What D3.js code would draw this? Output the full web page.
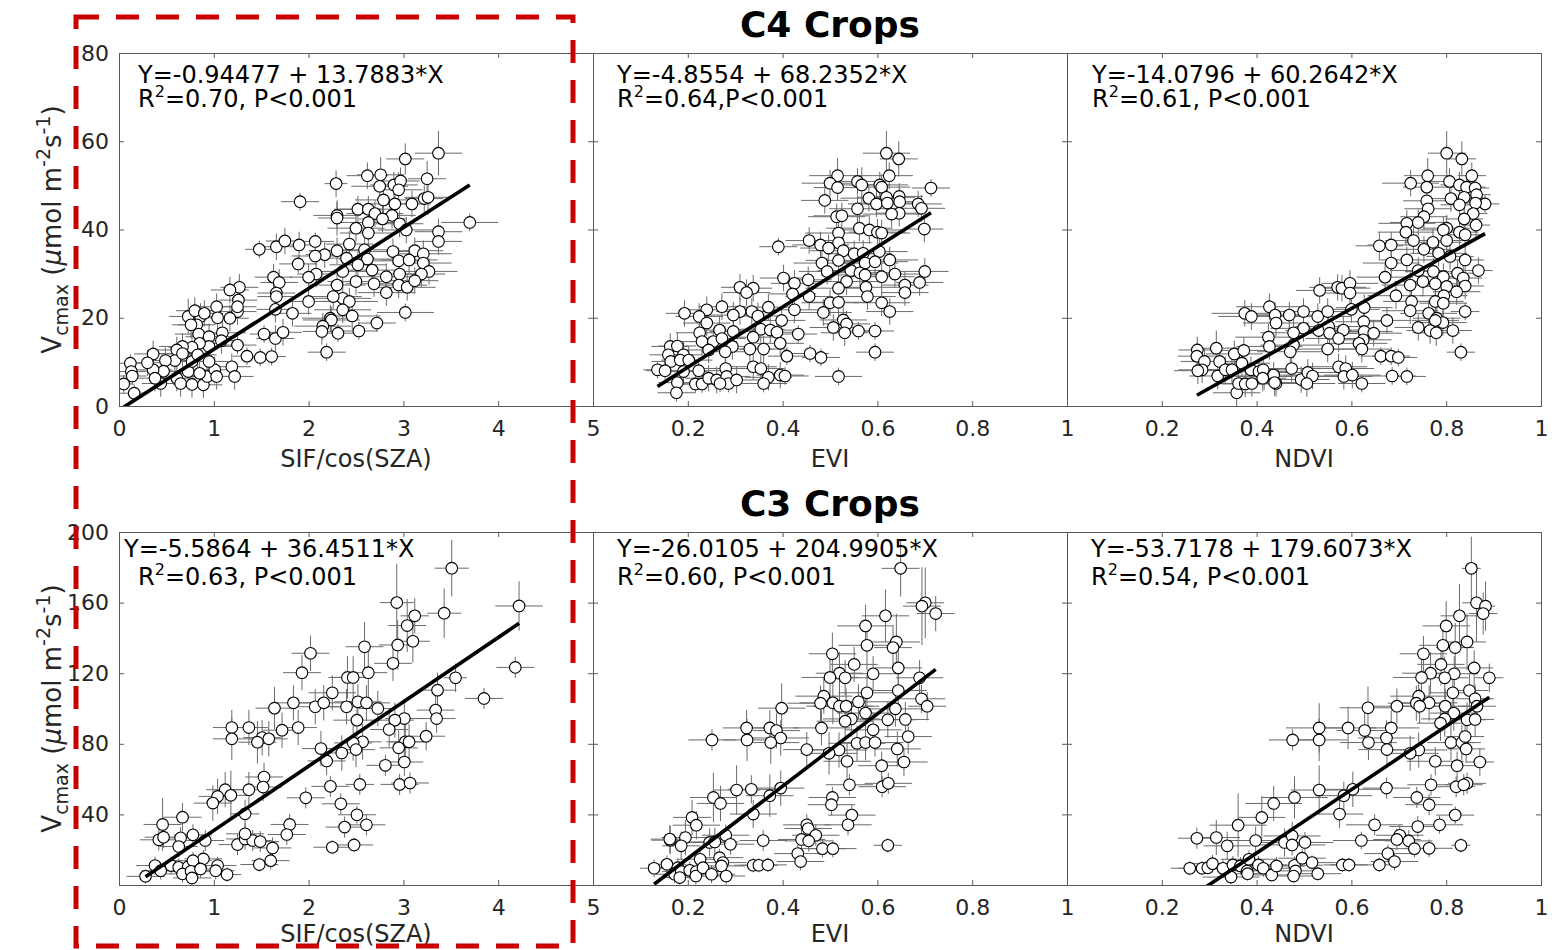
<!DOCTYPE html>
<html>
<head>
<meta charset="utf-8">
<script src="https://cdn.jsdelivr.net/npm/d3@7"></script>
<style>
body{margin:0;background:#fff;}
svg{display:block;font-family:"DejaVu Sans",sans-serif;}
</style>
</head>
<body>
<div id="chart"></div>
<script>
// each point: [x, Vcmax, x error (half width), Vcmax error (half height)]
var c4Sif = [
[3.37,57.3,.25,5],[3.02,56,.2,3.5],[2.62,52.2,.22,3],[2.76,52.4,.25,4],[2.29,50.4,.12,3],[3.25,51.5,.2,4],[2.90,50.1,.25,3],[2.97,51,.2,3],[2.95,49,.25,4],[2.75,49.8,.3,3],
[2.79,46.7,.3,3],[2.91,45.8,.25,3],[3.09,45.8,.2,3],[3.22,47,.2,3],[3.26,47.3,.25,4],[1.91,46.3,.2,2],[2.52,44.6,.25,3],[2.63,44.6,.3,3],[2.30,43.2,.25,3],[2.30,42.6,.2,4],
[2.70,43.6,.3,3],[2.88,43.2,.25,3],[2.63,41.6,.3,4],[2.78,42.4,.25,3],[2.96,41.3,.25,3],[3.70,41.6,.3,2],[2.50,40.3,.3,3],[2.63,39.2,.3,4],[3.03,39.9,.3,3],[3.37,39.5,.25,3],
[2.43,36.7,.25,3],[2.59,35.4,.3,3],[3.37,37.3,.25,3],[1.48,35.5,.15,2],[1.66,36.1,.2,3],[1.75,37.4,.2,3],[1.90,36.5,.2,3],[2.07,37.3,.2,2],[2.30,35.2,.3,3],[2.89,35,.3,3],
[3.12,35.2,.3,3],[3.21,34.5,.3,3],[2.17,34.3,.2,3],[2.07,34,.25,2],[2.40,33.5,.3,3],[2.62,33.3,.3,3],[2.95,32.9,.3,3],[3.06,33.1,.3,3],[1.89,32.2,.2,2],[3.21,32.4,.3,3],
[2.52,32,.3,3],[2.36,30.5,.3,3],[2.67,30.8,.3,3],[2.96,29.9,.3,3],[3.27,30.5,.3,3],[3.19,29.9,.25,3],[2.08,29.9,.2,3],[2.00,29.2,.2,3],[1.63,29.2,.2,3],[2.82,29.3,.3,3],
[2.95,27.4,.3,3],[3.04,26.9,.3,3],[3.12,28.4,.25,3],[2.50,28.2,.3,3],[2.69,27.7,.3,3],[2.82,25.7,.3,3],[2.30,27.4,.3,3],[1.69,28,.2,3],[1.66,25.6,.2,3],[1.27,26.9,.2,3],
[1.17,26.3,.2,3],[2.36,24.4,.3,3],[2.26,24.8,.3,3],[1.66,24.8,.2,3],[2.43,23.7,.3,3],[2.00,23.7,.2,3],[1.26,24,.2,3],[2.36,21.8,.3,3],[2.46,20.4,.3,3],[3.02,21.2,.3,2],
[2.23,19.9,.3,3],[2.24,19.5,.3,3],[2.15,18.1,.3,3],[2.14,16.9,.2,3],[2.31,16.5,.2,2],[2.53,17,.2,2],[2.72,18.8,.2,2],[1.83,21,.2,3],[1.65,21.9,.2,3],[1.53,16.3,.15,2],
[1.65,15.3,.2,3],[1.73,16.7,.2,3],[1.49,11,.15,2],[1.61,11.2,.15,2],[1.35,11.3,.15,2],[2.19,12.2,.2,2],[1.25,13.8,.2,2],[1.25,21.4,.2,3],[1.25,22.5,.2,3],[1.03,22.5,.2,3],
[1.17,19.9,.2,3],[1.04,20,.2,3],[0.86,20.3,.2,3],[0.73,20.3,.2,4],[0.80,21.6,.2,3],[0.90,21,.2,3],[0.82,18.4,.2,3],[0.76,18.4,.2,3],[0.84,16.3,.25,3],[0.95,15.7,.25,3],
[1.09,16.6,.25,3],[1.08,14.8,.2,3],[0.95,13.5,.25,3],[0.85,14.2,.25,3],[0.77,13.3,.25,3],[0.67,13.5,.25,3],[0.61,12.7,.25,3],[0.59,10.3,.25,3],[0.49,10.3,.25,3],[0.36,11.8,.2,3],
[0.47,7.9,.25,3],[0.36,8.2,.2,3],[0.30,9.8,.2,3],[0.12,9.7,.15,2],[0.13,7.8,.15,2],[0.16,2.9,.15,2],[0.05,5,.1,2],[0.14,6.8,.15,2],[0.61,6.3,.2,3],[0.65,5.1,.2,3],
[0.77,4.9,.2,3],[0.89,4.8,.2,3],[0.93,6.7,.2,3],[1.01,8.2,.2,3],[1.03,6.7,.25,3],[0.73,7.8,.2,3],[0.85,7.4,.2,3],[0.77,10.1,.2,3],[0.95,10.1,.2,3],[1.19,8.9,.2,3],
[1.22,6.7,.2,3],[0.44,5.1,.2,3],[0.38,6.3,.2,3],[0.67,11.9,.25,3],[0.83,11.6,.2,3]
];
var c4Evi = [
[.619,57.3,.05,5],[.645,56,.04,4],[.516,52.2,.06,4],[.500,50.5,.06,3],[.516,49.5,.05,3],[.558,50.9,.06,3],[.567,50.1,.06,4],[.605,50.1,.06,3],[.625,52.2,.05,3],[.609,49.6,.06,3],
[.713,49.4,.04,2],[.489,46.6,.05,3],[.582,47.1,.06,3],[.619,47.3,.06,3],[.646,47.5,.05,3],[.647,46.3,.05,3],[.598,45.8,.06,3],[.686,45.8,.05,3],[.693,44.8,.05,3],[.558,44.7,.06,3],
[.621,46,.06,3],[.646,43.7,.05,3],[.514,42.9,.06,3],[.525,43.1,.06,3],[.630,43.5,.06,3],[.562,40.3,.07,3],[.583,39.9,.07,3],[.600,39.4,.06,3],[.609,39.2,.06,3],[.699,40.1,.04,3],
[.518,39.2,.07,3],[.456,37.5,.05,3],[.480,36.5,.06,3],[.518,37,.07,3],[.391,36.1,.04,2],[.497,35.8,.06,3],[.528,35.2,.07,3],[.551,34.5,.06,3],[.570,34.6,.06,3],[.604,35,.06,3],
[.626,33.1,.06,3],[.518,33,.07,3],[.483,32.4,.06,3],[.574,32.4,.07,3],[.595,32.7,.07,3],[.494,30.5,.06,3],[.544,30.7,.07,3],[.563,30.2,.07,3],[.574,29.7,.06,3],[.609,29.3,.07,3],
[.637,29.9,.06,3],[.700,30.5,.05,3],[.402,29,.05,3],[.454,28.6,.05,3],[.425,27.8,.05,3],[.535,28.2,.07,3],[.658,27.4,.05,3],[.689,28,.05,3],[.658,25.7,.05,3],[.518,26.7,.07,3],
[.576,26.9,.07,3],[.421,25.4,.05,3],[.456,24.8,.05,3],[.579,24.8,.06,3],[.310,26.9,.04,3],[.338,26.7,.04,3],[.324,25.7,.05,3],[.500,23.4,.06,3],[.609,23.4,.06,3],[.626,21.4,.05,3],
[.518,23.5,.06,3],[.486,21.2,.06,3],[.425,21.8,.05,3],[.370,22.4,.05,3],[.335,21.4,.05,3],[.310,21.4,.05,3],[.272,22.5,.05,3],[.240,21.8,.05,3],[.193,21,.04,3],[.224,20.3,.05,3],
[.296,20.6,.05,3],[.348,20.4,.05,3],[.398,19.4,.05,3],[.528,19.5,.05,3],[.535,18.6,.05,3],[.507,17.8,.05,3],[.560,17,.05,2],[.595,17,.04,2],[.531,16.6,.05,3],[.433,16.3,.04,2],
[.240,18.8,.05,3],[.225,16.6,.05,3],[.267,17.2,.05,3],[.296,16.9,.05,3],[.354,17.4,.05,3],[.374,17.2,.05,3],[.388,16.7,.05,3],[.230,14.6,.05,3],[.254,14.6,.05,3],[.272,15.3,.05,3],
[.338,15.6,.05,3],[.395,14.2,.05,3],[.294,13.5,.05,3],[.163,13.5,.04,3],[.178,13.6,.04,3],[.331,12.9,.05,3],[.360,12.9,.05,3],[.244,12.7,.05,3],[.279,12.3,.05,3],[.458,11.9,.04,2],
[.595,12.2,.04,2],[.159,11.6,.04,3],[.191,11.6,.04,3],[.409,11.3,.04,2],[.164,10.1,.04,3],[.184,10.4,.04,3],[.202,10.4,.05,3],[.481,11,.04,2],[.136,8.2,.03,2],[.152,8,.04,2],
[.191,7.8,.05,3],[.223,8,.05,3],[.280,8.5,.05,3],[.338,8.9,.05,3],[.354,8.5,.05,3],[.395,7,.05,3],[.405,6.8,.05,2],[.370,6.5,.05,3],[.518,6.7,.05,2],[.178,5.3,.04,2],
[.216,5,.05,2],[.230,5,.05,2],[.244,6.3,.05,3],[.261,5.9,.05,3],[.282,6.7,.05,3],[.286,5.1,.05,2],[.268,5.1,.05,2],[.176,3,.04,2],[.360,5.1,.05,2],[.303,5.9,.05,3]
];
var c4Ndvi = [
[.801,57.3,.04,5],[.833,56,.03,4],[.761,52.2,.05,4],[.854,52.2,.03,3],[.725,50.5,.06,3],[.807,50.9,.05,3],[.759,49.6,.05,3],[.828,50.1,.04,3],[.843,49.6,.04,3],[.861,49.4,.03,3],
[.810,47,.05,3],[.838,47.3,.04,3],[.864,47.9,.03,3],[.882,45.8,.03,2],[.862,46,.03,3],[.828,45.6,.04,3],[.759,46.5,.05,3],[.762,44.7,.05,3],[.753,42.9,.05,3],[.857,43.6,.03,3],
[.838,42.4,.04,3],[.741,41.6,.06,3],[.717,41.4,.06,3],[.863,41,.03,3],[.801,40.3,.05,3],[.794,39.9,.05,3],[.828,39.4,.04,3],[.715,39.4,.06,3],[.840,38.8,.04,3],[.731,37.5,.06,3],
[.659,36.3,.05,3],[.684,36.5,.05,3],[.772,37.1,.06,3],[.801,37.5,.05,3],[.753,35.5,.06,3],[.784,34.6,.06,3],[.808,33.9,.05,3],[.840,33.1,.04,3],[.684,32.4,.06,3],[.717,33.1,.06,3],
[.824,30.1,.05,3],[.868,30.7,.03,3],[.741,30.7,.06,3],[.773,30.5,.06,3],[.794,29.3,.05,3],[.836,29,.04,3],[.671,29.2,.06,3],[.751,28.2,.06,3],[.777,27.7,.06,3],[.724,27.4,.06,3],
[.801,27.1,.05,3],[.840,27.2,.04,3],[.822,25.9,.05,3],[.533,26.2,.05,3],[.571,26.9,.06,3],[.580,26.7,.06,3],[.597,27.8,.06,3],[.597,25.6,.06,3],[.694,25,.06,3],[.795,25,.05,3],
[.777,23.7,.06,3],[.727,23.7,.06,3],[.794,23.3,.05,3],[.724,21.6,.06,3],[.600,21.9,.06,3],[.627,22.3,.06,3],[.840,21.4,.03,2],[.763,21,.06,3],[.780,19.9,.05,3],[.793,18.9,.05,3],
[.777,19.4,.05,3],[.741,17.8,.05,3],[.766,17.1,.05,3],[.779,16.6,.05,3],[.814,17.1,.04,3],[.675,19.4,.05,3],[.626,19.1,.06,3],[.427,22.5,.07,3],[.439,20.6,.07,3],[.469,20.6,.07,3],
[.499,21.4,.07,3],[.529,20.3,.07,3],[.550,21.4,.06,3],[.375,21,.07,3],[.389,20.3,.07,3],[.441,18.8,.07,3],[.499,17.6,.07,3],[.531,17.1,.07,3],[.552,18,.07,3],[.583,17.2,.07,3],
[.627,16.9,.06,3],[.625,15,.06,3],[.647,16.5,.06,3],[.478,16.6,.07,3],[.425,15.6,.07,3],[.554,16.5,.07,3],[.573,15.3,.07,3],[.427,13.5,.07,3],[.478,13.8,.07,3],[.471,12.3,.07,3],
[.616,14.2,.06,3],[.622,12.9,.06,3],[.550,12.9,.07,3],[.275,12.7,.04,3],[.315,13.1,.05,4],[.274,11.3,.04,3],[.353,11.8,.06,3],[.373,12.6,.06,3],[.290,10.1,.05,3],[.322,10.1,.06,3],
[.369,9.7,.06,3],[.285,8.2,.05,3],[.318,6.8,.06,3],[.334,8.2,.06,3],[.348,8.2,.06,3],[.276,8,.05,3],[.662,11.3,.04,2],[.684,11.3,.04,2],[.699,11,.04,2],[.831,12.2,.03,2],
[.388,8.2,.06,3],[.405,7.8,.06,3],[.416,6.7,.06,3],[.436,7,.06,3],[.441,5.1,.05,3],[.414,8.2,.06,3],[.474,8.5,.06,3],[.494,6,.06,3],[.508,7.6,.06,3],[.518,6.8,.06,3],
[.506,5.1,.06,3],[.573,8.9,.06,3],[.588,8.5,.06,3],[.584,6.7,.06,3],[.602,7,.06,3],[.622,5.1,.05,2],[.686,6.8,.05,2],[.717,6.7,.04,2],[.358,3,.05,3],[.362,5.1,.05,3],
[.376,5,.05,3],[.390,5.1,.05,3],[.413,6.3,.05,3],[.438,5.3,.05,3]
];
var c3Sif = [
[3.51,179.5,.18,16],[2.93,160,.18,22],[4.22,158.1,.25,14],[3.43,154,.18,14],[3.12,152.5,.15,10],[3.04,147,.2,15],[3.10,138.1,.18,12],[2.94,136,.2,14],[2.59,135,.2,14],[2.02,131.3,.2,10],
[2.63,120.3,.2,14],[1.93,120.3,.2,10],[2.89,125.6,.2,10],[4.18,123.3,.2,6],[2.41,117.6,.2,12],[2.47,117.6,.2,12],[3.55,117.4,.12,8],[3.36,110.4,.2,10],[2.25,108.9,.25,10],[3.85,105.7,.2,6],
[1.84,103.2,.2,10],[2.07,101,.25,10],[2.16,103.2,.25,10],[1.64,100.2,.2,12],[2.40,101,.25,10],[2.52,103.8,.25,10],[2.61,103.2,.25,10],[2.73,100,.2,10],[3.34,99.1,.2,8],[3.01,94.3,.2,10],
[2.91,93.4,.2,10],[3.35,94.3,.2,8],[2.51,93.4,.25,10],[2.85,88.1,.2,10],[1.19,89.2,.2,10],[1.37,89.2,.2,10],[1.89,89.2,.2,10],[1.72,87.7,.2,10],[1.19,82.8,.2,12],[1.51,83.5,.2,10],
[1.58,82.8,.2,10],[1.46,80.9,.2,12],[2.57,81.1,.2,10],[2.47,80.5,.2,10],[3.02,81.1,.2,10],[3.06,81.1,.2,10],[3.24,84.3,.2,8],[2.95,77.7,.2,10],[2.13,77.3,.2,10],[2.50,76.7,.2,10],
[2.35,74.8,.2,10],[2.19,70.3,.2,8],[3.01,69.7,.2,8],[2.81,67.8,.2,6],[1.53,61.2,.2,8],[1.52,55.5,.2,8],[2.54,57,.15,6],[2.96,57,.2,6],[3.07,57.8,.2,6],[2.23,55.9,.2,6],
[1.12,54,.2,10],[1.37,54,.2,10],[1.04,50.2,.2,10],[1.18,50.8,.2,14],[0.99,46.4,.2,10],[1.97,49.4,.2,6],[1.33,40.3,.15,8],[2.51,39.8,.2,5],[2.34,46,.2,6],[0.67,38.4,.2,8],
[0.46,34.3,.2,15],[1.80,34.3,.2,6],[2.38,32.8,.2,6],[2.61,34.1,.2,6],[0.42,25.6,.2,6],[0.47,27.1,.2,6],[0.65,26.7,.2,6],[0.78,28.4,.2,6],[0.63,21.8,.2,6],[0.91,25.2,.2,6],
[1.25,22.9,.2,6],[1.33,26.1,.2,6],[1.41,25.2,.2,6],[1.49,24.6,.2,6],[1.77,28.6,.2,6],[1.62,21,.2,6],[2.25,21.4,.2,4],[2.48,22.7,.2,4],[1.60,13.8,.2,5],[1.48,11.6,.2,4],
[0.38,11,.2,5],[0.55,11,.2,5],[0.63,10,.2,5],[0.73,10.4,.2,5],[0.89,14.8,.2,5],[0.78,13.8,.2,5],[1.04,11,.2,5],[1.02,8.1,.2,5],[1.14,5.9,.15,4],[0.28,4.9,.2,4],
[0.44,8.1,.2,5],[0.67,6.3,.2,5],[0.76,7.8,.2,5],[0.77,4,.2,4],[0.86,9.1,.2,5],[1.33,29,.2,6]
];
var c3Evi = [
[.649,179.4,.04,16],[.701,159.9,.04,20],[.694,158,.04,22],[.723,153.8,.04,10],[.617,152.5,.05,15],[.575,146.8,.06,12],[.640,137.7,.05,16],[.633,134.5,.04,12],[.578,135.8,.06,14],[.505,131,.05,12],
[.551,125,.05,10],[.644,123,.05,12],[.520,120,.05,12],[.591,119.7,.05,10],[.500,117.6,.06,12],[.532,117.4,.05,10],[.689,117.4,.05,10],[.578,108.9,.06,10],[.644,110.2,.06,10],[.487,107,.06,10],
[.480,103,.07,10],[.506,103.2,.07,12],[.520,101.3,.07,10],[.534,101.3,.07,10],[.560,103.8,.07,10],[.693,105.5,.05,8],[.705,101.3,.04,8],[.638,99.8,.06,10],[.575,97.4,.06,10],[.545,94.1,.06,10],
[.532,92.8,.06,10],[.622,93.6,.06,10],[.659,93.8,.05,10],[.398,100.2,.05,14],[.482,89,.06,10],[.591,87.9,.06,10],[.665,84.1,.05,10],[.324,89,.05,10],[.373,89,.06,10],[.387,87.5,.05,10],
[.396,83.3,.06,10],[.325,82.2,.05,12],[.375,80.7,.06,12],[.251,82.2,.05,6],[.557,80.3,.06,10],[.575,80.7,.06,10],[.595,80.7,.06,8],[.451,76.7,.05,10],[.519,76.5,.06,10],[.498,74.6,.06,12],
[.642,77.1,.05,10],[.536,70.1,.05,10],[.609,67.6,.05,8],[.656,69.7,.05,8],[.541,56.8,.05,6],[.610,55.7,.05,6],[.623,57.6,.05,6],[.303,53.8,.05,14],[.334,54.2,.05,8],[.396,54.9,.05,10],
[.373,50.6,.05,12],[.254,49.6,.05,14],[.269,46.2,.05,10],[.505,49.6,.05,6],[.503,45.5,.05,6],[.338,40.2,.05,8],[.546,39.6,.05,6],[.209,38.3,.04,10],[.218,33.9,.05,8],[.451,34.1,.05,6],
[.454,32,.05,6],[.538,34.1,.05,6],[.470,28.2,.05,6],[.440,25.8,.05,6],[.455,25,.05,6],[.359,25.2,.05,6],[.280,28.2,.05,6],[.290,23.1,.05,6],[.195,26.9,.05,10],[.163,25.4,.04,8],
[.162,26,.04,8],[.186,22.2,.04,8],[.246,24.1,.05,8],[.257,24.4,.05,8],[.484,20.6,.05,5],[.506,20.6,.05,5],[.622,22.5,.03,4],[.432,17.8,.05,5],[.438,13.3,.05,5],[.129,9.5,.03,5],
[.156,11.7,.04,5],[.179,9.8,.04,5],[.172,6.1,.04,5],[.186,7.6,.04,5],[.204,8.3,.04,5],[.218,7.6,.05,5],[.217,5.1,.05,5],[.226,14.6,.05,5],[.232,9.8,.05,5],[.250,6.1,.05,5],
[.267,15.5,.05,5],[.274,12.7,.05,5],[.271,10.8,.05,5],[.281,5.1,.04,5],[.338,11.2,.04,4],[.350,11.2,.04,4],[.369,11.4,.04,4],[.183,4.2,.04,4]
];
var c3Ndvi = [
[.853,179.4,.02,18],[.864,159.9,.03,22],[.883,158,.02,14],[.878,153.8,.03,12],[.828,152.5,.04,18],[.800,146.8,.05,14],[.844,137.7,.04,16],[.819,134.5,.04,14],[.793,135.8,.05,14],[.752,131,.05,10],
[.789,125,.05,12],[.859,123,.04,10],[.767,120,.06,12],[.817,119.7,.05,10],[.748,117.6,.06,12],[.797,117.4,.05,12],[.891,117.4,.03,8],[.814,108.9,.05,10],[.849,110.2,.04,10],[.742,107,.06,10],
[.737,103,.06,10],[.764,103.2,.06,10],[.744,101.3,.06,10],[.798,101.3,.05,10],[.696,101.3,.06,10],[.861,105.5,.04,8],[.865,101.3,.04,8],[.635,100.4,.06,12],[.816,97.4,.05,10],[.797,94.1,.05,10],
[.788,91.7,.05,10],[.844,93.6,.04,10],[.861,93.8,.04,10],[.532,89,.07,14],[.593,89,.06,12],[.628,87.5,.06,10],[.684,89,.06,10],[.674,83.3,.06,10],[.476,82.2,.05,6],[.532,82.2,.06,12],
[.636,80.7,.06,10],[.810,80.7,.05,10],[.833,80.7,.04,10],[.840,84.1,.04,10],[.675,76.7,.06,10],[.742,76.5,.06,10],[.724,74.6,.06,10],[.842,77.1,.04,8],[.777,70.1,.06,8],[.823,67.6,.05,8],
[.871,69.7,.03,8],[.768,56.8,.05,6],[.821,55.7,.04,6],[.844,57.6,.04,6],[.837,56.8,.04,6],[.532,53.8,.06,14],[.603,54.2,.06,10],[.674,54.9,.05,6],[.584,50.6,.06,8],[.480,49.6,.07,12],
[.436,46.2,.06,10],[.738,49.6,.05,6],[.764,45.5,.05,6],[.575,40.2,.05,8],[.819,39.6,.04,5],[.411,38.3,.05,12],[.361,33.9,.06,18],[.649,34.1,.06,6],[.740,33.1,.06,6],[.786,34.1,.05,5],
[.702,28.2,.05,6],[.696,25.8,.05,6],[.721,25,.05,6],[.733,20.6,.05,5],[.764,20.8,.05,5],[.621,25.2,.06,5],[.398,25.2,.06,8],[.315,26.9,.05,10],[.274,26.5,.04,6],[.338,22.2,.05,8],
[.459,24.1,.07,8],[.475,27.8,.06,8],[.475,22.7,.07,6],[.502,24.1,.06,6],[.831,22.5,.02,4],[.677,17.8,.05,5],[.691,13.3,.05,5],[.259,9.5,.04,4],[.285,9.5,.05,4],[.297,9.8,.05,4],
[.307,12.1,.05,5],[.329,9.5,.06,5],[.346,4.5,.06,4],[.350,11.4,.06,5],[.366,10.8,.06,5],[.380,8,.06,5],[.384,14.6,.06,5],[.404,11.4,.06,5],[.414,9.5,.06,5],[.432,5.7,.06,4],
[.442,10.8,.06,5],[.480,11.2,.06,5],[.482,8,.06,5],[.478,5.1,.06,4],[.496,15.2,.05,5],[.517,12.7,.05,4],[.529,6.4,.05,4],[.581,11.4,.04,4],[.595,11.4,.04,4],[.659,11.4,.04,4],
[.381,6.4,.06,4]
];

var rowTitles = ["C4 Crops", "C3 Crops"];
var xLabels = ["SIF/cos(SZA)", "EVI", "NDVI"];
var xDomains = [[0, 5], [0, 1], [0, 1]];
var xTickValues = [[0, 1, 2, 3, 4, 5], [0, 0.2, 0.4, 0.6, 0.8, 1], [0, 0.2, 0.4, 0.6, 0.8, 1]];
var c4YTicks = [0, 20, 40, 60, 80];
var c3YTicks = [40, 80, 120, 160, 200];
var c4Intercepts = [-0.94477, -4.8554, -14.0796];
var c4Slopes = [13.7883, 68.2352, 60.2642];
var c3Intercepts = [-5.5864, -26.0105, -53.7178];
var c3Slopes = [36.4511, 204.9905, 179.6073];
var c4Equations = ["Y=-0.94477 + 13.7883*X", "Y=-4.8554 + 68.2352*X", "Y=-14.0796 + 60.2642*X"];
var c3Equations = ["Y=-5.5864 + 36.4511*X", "Y=-26.0105 + 204.9905*X", "Y=-53.7178 + 179.6073*X"];
var c4Stats = ["=0.70, P<0.001", "=0.64,P<0.001", "=0.61, P<0.001"];
var c3Stats = ["=0.63, P<0.001", "=0.60, P<0.001", "=0.54, P<0.001"];

var rows = [
	{title: rowTitles[0], sets: [c4Sif, c4Evi, c4Ndvi], yDomain: [0, 80], yTicks: c4YTicks,
	 b0: c4Intercepts, b1: c4Slopes, eq: c4Equations, stats: c4Stats},
	{title: rowTitles[1], sets: [c3Sif, c3Evi, c3Ndvi], yDomain: [0, 200], yTicks: c3YTicks,
	 b0: c3Intercepts, b1: c3Slopes, eq: c3Equations, stats: c3Stats}
];

var W = 1555, H = 950;
var colLeft = [119, 593, 1067], colW = 474;
var rowTop = [53, 532], rowH = 353;
var xLabelGap = [61, 57];
// text placement inside each panel (px from the panel's top-left corner)
var eqPos = [
	[[19, 30, 19, 54], [24, 30, 24, 54], [25, 30, 25, 54]],
	[[5, 25, 19, 53], [24, 25, 24, 53], [24, 25, 24, 53]]
];
var tickColor = "#5a5a5a", textColor = "#262626";

var svg = d3.select("#chart").append("svg")
	.attr("width", W)
	.attr("height", H);

rows.forEach(function(row, r) {
	var top = rowTop[r];

	svg.append("text")
		.attr("x", colLeft[1] + colW / 2)
		.attr("y", top - 16)
		.attr("text-anchor", "middle")
		.style("font-size", "36px")
		.style("font-weight", "bold")
		.text(row.title);

	row.sets.forEach(function(pts, c) {
		var left = colLeft[c];
		var x = d3.scaleLinear().domain(xDomains[c]).range([left, left + colW]);
		var y = d3.scaleLinear().domain(row.yDomain).range([top + rowH, top]);

		var clipId = "clip" + r + c;
		svg.append("clipPath").attr("id", clipId)
			.append("rect")
			.attr("x", left).attr("y", top)
			.attr("width", colW).attr("height", rowH);

		var g = svg.append("g").attr("clip-path", "url(#" + clipId + ")");

		// error bars
		var eb = g.append("g")
			.style("stroke", "#6b6b6b")
			.style("stroke-width", "1px");
		eb.selectAll("line.h").data(pts).enter().append("line")
			.attr("class", "h")
			.attr("x1", function(d) { return x(d[0] - d[2]); })
			.attr("x2", function(d) { return x(d[0] + d[2]); })
			.attr("y1", function(d) { return y(d[1]); })
			.attr("y2", function(d) { return y(d[1]); });
		eb.selectAll("line.v").data(pts).enter().append("line")
			.attr("class", "v")
			.attr("x1", function(d) { return x(d[0]); })
			.attr("x2", function(d) { return x(d[0]); })
			.attr("y1", function(d) { return y(d[1] - d[3]); })
			.attr("y2", function(d) { return y(d[1] + d[3]); });

		g.append("g").selectAll("circle").data(pts).enter().append("circle")
			.attr("cx", function(d) { return x(d[0]); })
			.attr("cy", function(d) { return y(d[1]); })
			.attr("r", 5.8)
			.style("fill", "#fff")
			.style("stroke", "#000")
			.style("stroke-width", "1.1px");

		// fitted line over the range of the data
		var ext = d3.extent(pts, function(d) { return d[0]; });
		var fit = function(v) { return row.b0[c] + row.b1[c] * v; };
		g.append("line")
			.attr("x1", x(ext[0])).attr("y1", y(fit(ext[0])))
			.attr("x2", x(ext[1])).attr("y2", y(fit(ext[1])))
			.style("stroke", "#000")
			.style("stroke-width", "3.6px");

		// axes, ticks pointing inward on all four sides
		var fmt = function(d) { return (c > 0 && d === 0) ? "" : d3.format("~g")(d); };
		var axB = svg.append("g").attr("transform", "translate(0," + (top + rowH) + ")")
			.call(d3.axisBottom(x).tickValues(xTickValues[c]).tickSizeInner(-5).tickSizeOuter(0)
				.tickPadding(14).tickFormat(fmt));
		var axT = svg.append("g").attr("transform", "translate(0," + top + ")")
			.call(d3.axisTop(x).tickValues(xTickValues[c]).tickSizeInner(-5).tickSizeOuter(0)
				.tickFormat(""));
		var axL = svg.append("g").attr("transform", "translate(" + left + ",0)")
			.call(d3.axisLeft(y).tickValues(row.yTicks).tickSizeInner(-5).tickSizeOuter(0)
				.tickPadding(10).tickFormat(c === 0 ? d3.format("d") : ""));
		var axR = svg.append("g").attr("transform", "translate(" + (left + colW) + ",0)")
			.call(d3.axisRight(y).tickValues(row.yTicks).tickSizeInner(-5).tickSizeOuter(0)
				.tickFormat(""));
		[axB, axT, axL, axR].forEach(function(ax) {
			ax.select(".domain").remove();
			ax.selectAll(".tick line").style("stroke", tickColor);
			ax.selectAll(".tick text")
				.style("font-size", "22px")
				.style("fill", textColor)
				.style("font-family", "DejaVu Sans");
		});

		svg.append("rect")
			.attr("x", left + 0.5).attr("y", top + 0.5)
			.attr("width", colW).attr("height", rowH)
			.style("fill", "none")
			.style("stroke", tickColor)
			.style("stroke-width", "1px");

		// regression annotation
		var p = eqPos[r][c];
		svg.append("text")
			.attr("x", left + p[0]).attr("y", top + p[1])
			.style("font-size", "24px")
			.text(row.eq[c]);
		var st = svg.append("text")
			.attr("x", left + p[2]).attr("y", top + p[3])
			.style("font-size", "24px");
		st.append("tspan").text("R");
		st.append("tspan").attr("dy", -10).style("font-size", "16px").text("2");
		st.append("tspan").attr("dy", 10).text(row.stats[c]);

		svg.append("text")
			.attr("x", left + colW / 2)
			.attr("y", top + rowH + xLabelGap[r])
			.attr("text-anchor", "middle")
			.style("font-size", "24px")
			.style("fill", textColor)
			.text(xLabels[c]);
	});

	// y axis title
	var yt = svg.append("text")
		.attr("transform", "translate(61," + (top + rowH / 2) + ") rotate(-90)")
		.attr("text-anchor", "middle")
		.style("font-size", "26px")
		.style("fill", textColor);
	yt.append("tspan").text("V");
	yt.append("tspan").attr("dy", 7).style("font-size", "19px").text("cmax");
	yt.append("tspan").attr("dy", -7).text(" (");
	yt.append("tspan").style("font-style", "italic").text("\u03bc");
	yt.append("tspan").text("mol m");
	yt.append("tspan").attr("dy", -11).style("font-size", "19px").text("-2");
	yt.append("tspan").attr("dy", 11).text("s");
	yt.append("tspan").attr("dy", -11).style("font-size", "19px").text("-1");
	yt.append("tspan").attr("dy", 11).text(")");
});

// highlight box around the SIF column
svg.append("rect")
	.attr("x", 76).attr("y", 17)
	.attr("width", 497).attr("height", 929)
	.style("fill", "none")
	.style("stroke", "#c80000")
	.style("stroke-width", "5px")
	.style("stroke-dasharray", "23 17");
</script>
</body>
</html>
